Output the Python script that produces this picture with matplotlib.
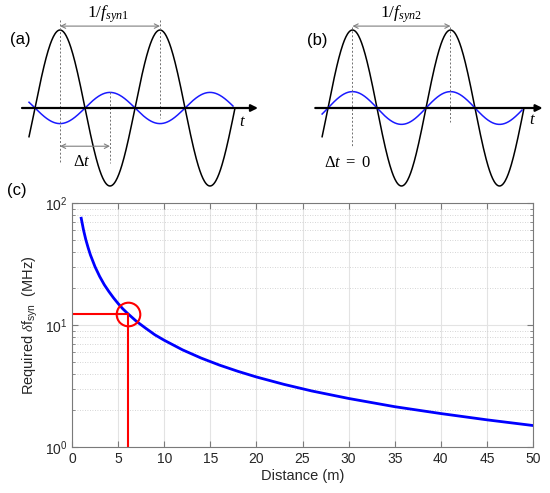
import matplotlib
matplotlib.use("Agg")
import matplotlib.pyplot as plt
import numpy as np
from matplotlib.ticker import LogLocator, NullFormatter, MultipleLocator

plt.rcParams['font.family'] = ['Liberation Sans', 'DejaVu Sans']
plt.rcParams['mathtext.fontset'] = 'custom'
plt.rcParams['mathtext.rm'] = 'Liberation Serif'
plt.rcParams['mathtext.it'] = 'Liberation Serif:italic'
plt.rcParams['mathtext.sf'] = 'Liberation Sans'

# ── Data ──────────────────────────────────────────────────────────────────────
# (c) required sync-frequency step vs distance
distance_m = [1.0, 1.25, 1.5, 1.75, 2.0, 2.5, 3.0, 3.5, 4.0, 4.5, 5.0, 5.5, 6.0,
              7.0, 8.0, 9.0, 10.0, 12.0, 14.0, 16.0, 18.0, 20.0, 23.0, 26.0,
              30.0, 35.0, 40.0, 45.0, 50.0]
delta_fsyn_mhz = [75.0, 60.0, 50.0, 43.0, 37.5, 30.0, 25.0, 21.4, 18.8, 16.7,
                  15.0, 13.6, 12.5, 10.7, 9.4, 8.3, 7.5, 6.25, 5.36, 4.69,
                  4.17, 3.75, 3.26, 2.88, 2.5, 2.14, 1.88, 1.67, 1.5]
marked_distance = 6.1
marked_fsyn = 12.3

# (a)/(b) schematic waveforms: amplitude in units of the black wave, length in periods
wave_amp_black = 1.0
wave_amp_blue_a = -0.2    # opposite phase in (a)
wave_amp_blue_b = 0.21    # in phase in (b)
wave_start, wave_end = -0.06, 2.0

W, H = 550, 493
fig = plt.figure(figsize=(W / 100, H / 100), dpi=100)


def wave_axes(px0, px1, t0_px, period_px, y0_px, amp_px):
    """Axes covering pixels px0..px1 horizontally (top 195 px), in period/amplitude units."""
    top, bot = 0, 195
    ax = fig.add_axes([px0 / W, 1 - bot / H, (px1 - px0) / W, (bot - top) / H])
    ax.set_xlim((px0 - t0_px) / period_px, (px1 - t0_px) / period_px)
    ax.set_ylim((y0_px - bot) / amp_px, (y0_px - top) / amp_px)
    ax.axis('off')
    return ax


def draw_wave_panel(ax, blue_amp, ax_left, ax_right):
    t = np.linspace(wave_start, wave_end, 400)
    ax.annotate('', xy=(ax_right, 0), xytext=(ax_left, 0),
                arrowprops=dict(arrowstyle='-|>', color='black', lw=1.6,
                                mutation_scale=10, shrinkA=0, shrinkB=0))
    ax.plot(t, wave_amp_black * np.sin(2 * np.pi * t), color='black', lw=1.1)
    tb = np.linspace(wave_start, wave_end - 0.02, 400)
    ax.plot(tb, blue_amp * np.sin(2 * np.pi * tb), color='#1a1aff', lw=1.1)


def dbl_arrow(ax, x0, x1, y):
    ax.annotate('', xy=(x1, y), xytext=(x0, y),
                arrowprops=dict(arrowstyle='<->', color='#808080', lw=0.8,
                                mutation_scale=8, shrinkA=0, shrinkB=0))


def vdash(ax, x, y0, y1):
    ax.plot([x, x], [y0, y1], color='#707070', lw=0.7, ls=(0, (2, 2)))


# ── (a) ──
axa = wave_axes(0, 280, 35, 100, 108, 78)
draw_wave_panel(axa, wave_amp_blue_a, -0.13, 2.23)
vdash(axa, 0.25, 1.13, -0.71)
vdash(axa, 0.75, 0.2, -0.71)
vdash(axa, 1.25, 1.13, -0.13)
dbl_arrow(axa, 0.25, 1.25, 1.05)
dbl_arrow(axa, 0.25, 0.75, -0.49)
axa.text(0.73, 1.2, r'$1/f_{syn1}$', ha='center', va='center', fontsize=12.5)
axa.text(0.47, -0.68, r'$\Delta t$', ha='center', va='center', fontsize=12)
axa.text(2.07, -0.17, r'$t$', ha='center', va='center', fontsize=12)
axa.text(-0.15, 0.88, '(a)', ha='center', va='center', fontsize=12)

# ── (b) ──
axb = wave_axes(280, 550, 328, 98, 108, 78)
draw_wave_panel(axb, wave_amp_blue_b, -0.13, 2.19)
vdash(axb, 0.25, 1.04, -0.5)
vdash(axb, 1.25, 1.04, -0.18)
dbl_arrow(axb, 0.25, 1.25, 1.05)
axb.text(0.74, 1.2, r'$1/f_{syn2}$', ha='center', va='center', fontsize=12.5)
axb.text(0.2, -0.7, r'$\Delta t\ =\ 0$', ha='center', va='center', fontsize=12)
axb.text(2.09, -0.15, r'$t$', ha='center', va='center', fontsize=12)
axb.text(-0.11, 0.87, '(b)', ha='center', va='center', fontsize=12)

# ── (c) ──
l, r, t_, b = 72, 533, 203, 447
axc = fig.add_axes([l / W, 1 - b / H, (r - l) / W, (b - t_) / H])
axc.set_yscale('log')
axc.set_xlim(0, 50)
axc.set_ylim(1, 100)
axc.xaxis.set_major_locator(MultipleLocator(5))
axc.yaxis.set_major_locator(LogLocator(base=10, numticks=5))
axc.yaxis.set_minor_locator(LogLocator(base=10, subs=np.arange(2, 10), numticks=20))
axc.yaxis.set_minor_formatter(NullFormatter())

axc.grid(True, axis='x', which='major', color='#e3e3e3', lw=0.8)
axc.grid(True, axis='y', which='major', color='#e3e3e3', lw=0.8)
axc.grid(True, axis='y', which='minor', color='#c8c8c8', lw=0.6, ls=(0, (1, 2)))
axc.set_axisbelow(True)

for s in axc.spines.values():
    s.set_color('#7a7a7a')
    s.set_linewidth(0.8)
axc.tick_params(which='both', direction='in', top=True, right=True,
                colors='#7a7a7a', labelcolor='#262626', labelsize=10)
axc.tick_params(which='major', length=4)
axc.tick_params(which='minor', length=2)

axc.plot(distance_m, delta_fsyn_mhz, color='#0000ff', lw=2)
axc.plot([0, marked_distance], [marked_fsyn, marked_fsyn], color='#ff0000', lw=1.5)
axc.plot([marked_distance, marked_distance], [1, marked_fsyn], color='#ff0000', lw=1.5)
axc.plot([marked_distance], [marked_fsyn], marker='o', ms=17, mfc='none',
         mec='#ff0000', mew=1.5)

axc.set_xlabel('Distance (m)', fontsize=10.5, color='#262626', labelpad=2)
axc.set_ylabel(r'Required $\mathit{\delta}$f$_{\mathsf{syn}}$  (MHz)', fontsize=10.5,
               color='#262626', labelpad=3)
fig.text(17 / W, 1 - 190 / H, '(c)', ha='center', va='center', fontsize=12)

fig.savefig('out.png', dpi=100)
